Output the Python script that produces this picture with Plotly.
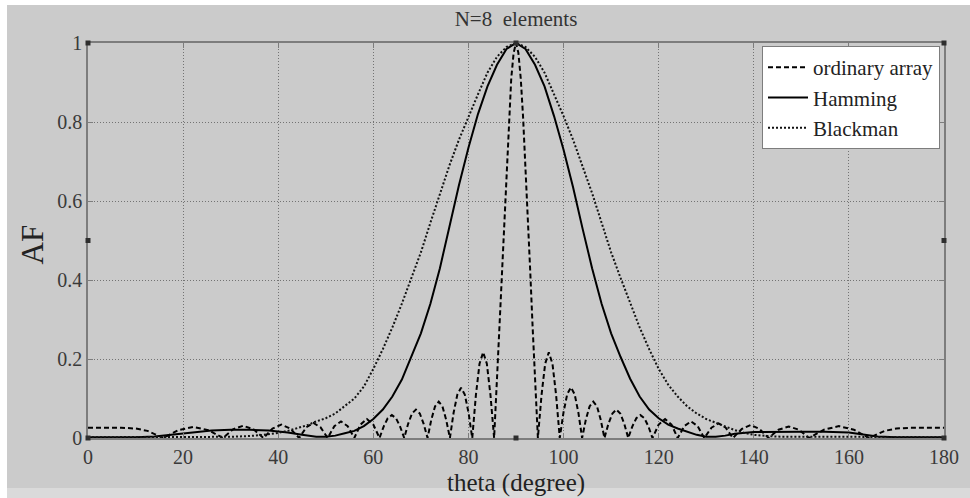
import plotly.graph_objects as go

# ---- array factor data, theta in degrees ----
theta_ordinary = [
    0, 7, 10, 12.5, 14, 15.8,
    19.0, 22.1, 25.3, 28.4,
    30.5, 32.65, 34.8, 36.9,
    38.8, 40.65, 42.5, 44.4,
    45.9, 47.4, 48.9, 50.4,
    51.8, 53.2, 54.6, 56.0,
    57.3, 58.65, 60.0, 61.3,
    62.17, 63.03, 63.9, 64.77, 65.63, 66.5,
    67.32, 68.13, 68.95, 69.77, 70.58, 71.4,
    72.18, 72.97, 73.75, 74.53, 75.32, 76.1,
    76.88, 77.67, 78.45, 79.23, 80.02, 80.8,
    81.57, 82.33, 83.1, 83.87, 84.63, 85.4,
    86.0, 86.5, 87.0, 87.5, 88.0, 88.5, 89.0, 89.5, 90.0,
    90.5, 91.0, 91.5, 92.0, 92.5, 93.0, 93.5, 94.0, 94.6,
    95.37, 96.13, 96.9, 97.67, 98.43, 99.2,
    99.98, 100.77, 101.55, 102.33, 103.12, 103.9,
    104.68, 105.47, 106.25, 107.03, 107.82, 108.6,
    109.43, 110.27, 111.1, 111.93, 112.77, 113.6,
    114.45, 115.3, 116.15, 117.0, 117.85, 118.7,
    120.0, 121.35, 122.7, 124.0,
    125.4, 126.8, 128.2, 129.6,
    131.1, 132.6, 134.1, 135.6,
    137.5, 139.35, 141.2, 143.1,
    145.2, 147.35, 149.5, 151.6,
    154.75, 157.9, 161.05, 164.2,
    166, 167.5, 170, 173, 180,
]
af_ordinary = [
    0.026, 0.026, 0.024, 0.018, 0.010, 0.0,
    0.020, 0.028, 0.020, 0.0,
    0.022, 0.031, 0.022, 0.0,
    0.024, 0.034, 0.024, 0.0,
    0.027, 0.038, 0.027, 0.0,
    0.030, 0.042, 0.030, 0.0,
    0.034, 0.048, 0.034, 0.0,
    0.029, 0.050, 0.058, 0.050, 0.029, 0.0,
    0.036, 0.062, 0.072, 0.062, 0.036, 0.0,
    0.046, 0.080, 0.092, 0.080, 0.046, 0.0,
    0.064, 0.110, 0.127, 0.110, 0.064, 0.0,
    0.109, 0.188, 0.217, 0.188, 0.109, 0.0,
    0.15, 0.28, 0.42, 0.56, 0.69, 0.81, 0.91, 0.975, 1.0,
    0.975, 0.91, 0.81, 0.69, 0.56, 0.42, 0.28, 0.15, 0.0,
    0.109, 0.188, 0.217, 0.188, 0.109, 0.0,
    0.064, 0.111, 0.128, 0.111, 0.064, 0.0,
    0.046, 0.080, 0.092, 0.080, 0.046, 0.0,
    0.036, 0.062, 0.072, 0.062, 0.036, 0.0,
    0.029, 0.050, 0.058, 0.050, 0.029, 0.0,
    0.034, 0.048, 0.034, 0.0,
    0.030, 0.042, 0.030, 0.0,
    0.026, 0.037, 0.026, 0.0,
    0.023, 0.033, 0.023, 0.0,
    0.021, 0.029, 0.021, 0.0,
    0.021, 0.030, 0.021, 0.0,
    0.010, 0.018, 0.024, 0.026, 0.026,
]

theta_hamming = [
    0, 10, 14, 18, 22, 26, 30, 34, 38, 42, 45, 48, 50, 52, 54, 56, 58,
    60, 62, 64, 66, 68, 70, 72, 74, 76, 78, 80, 82, 84, 86, 88, 90,
    92, 94, 96, 98, 100, 102, 104, 106, 108, 110, 112, 114, 116, 118,
    120, 122, 124, 126, 128, 130, 132, 134, 136, 140, 145, 150, 155,
    160, 163, 166, 170, 180,
]
af_hamming = [
    0.002, 0.002, 0.004, 0.009, 0.015, 0.019, 0.021, 0.021, 0.019, 0.014,
    0.008, 0.003, 0.003, 0.006, 0.012, 0.018, 0.030,
    0.048, 0.072, 0.105, 0.148, 0.205, 0.265, 0.340, 0.430, 0.535, 0.640,
    0.735, 0.820, 0.890, 0.945, 0.985, 1.0,
    0.985, 0.945, 0.890, 0.815, 0.730, 0.635, 0.530, 0.430, 0.340, 0.265,
    0.205, 0.150, 0.105, 0.072,
    0.050, 0.034, 0.024, 0.015, 0.008, 0.003, 0.003, 0.006, 0.011, 0.015,
    0.016, 0.016, 0.016, 0.014, 0.009, 0.004, 0.002, 0.002,
]

theta_blackman = [
    0, 20, 30, 34, 37, 40, 42, 44, 46, 48, 50, 52, 54, 56, 58,
    60, 62, 64, 66, 68, 70, 72, 74, 76, 78, 80, 82, 84, 86, 88, 90,
    92, 94, 96, 98, 100, 102, 104, 106, 108, 110, 112, 114, 116, 118,
    120, 122, 124, 126, 128, 130, 132, 134, 136, 138, 140, 143, 146,
    160, 180,
]
af_blackman = [
    0.002, 0.002, 0.003, 0.005, 0.008, 0.013, 0.018, 0.025, 0.032, 0.042,
    0.050, 0.062, 0.080, 0.100, 0.130,
    0.175, 0.225, 0.280, 0.340, 0.405, 0.470, 0.545, 0.620, 0.690, 0.755,
    0.815, 0.870, 0.925, 0.965, 0.990, 1.0,
    0.990, 0.965, 0.925, 0.870, 0.815, 0.755, 0.690, 0.620, 0.545, 0.470,
    0.405, 0.340, 0.280, 0.225,
    0.175, 0.135, 0.105, 0.080, 0.062, 0.048, 0.038, 0.028, 0.020, 0.013,
    0.008, 0.005, 0.003, 0.003, 0.002,
]

x_ticks = [0, 20, 40, 60, 80, 100, 120, 140, 160, 180]
y_ticks = [0, 0.2, 0.4, 0.6, 0.8, 1]
y_tick_labels = ["0", "0.2", "0.4", "0.6", "0.8", "1"]

SERIF = "Liberation Serif, Times New Roman, serif"
FIG_GRAY = "#cbcbcb"
AXIS_GRAY = "#7d7d7d"

fig = go.Figure()
fig.add_trace(go.Scatter(
    x=theta_ordinary, y=af_ordinary, mode="lines", name="ordinary array",
    line=dict(color="black", width=2, dash="5px,3px"),
))
fig.add_trace(go.Scatter(
    x=theta_hamming, y=af_hamming, mode="lines", name="Hamming",
    line=dict(color="black", width=2),
))
fig.add_trace(go.Scatter(
    x=theta_blackman, y=af_blackman, mode="lines", name="Blackman",
    line=dict(color="#111", width=2, dash="2px,2px"),
))

axis_common = dict(
    showgrid=True, gridcolor="#737373", griddash="1px,2px", gridwidth=1,
    showline=True, linecolor=AXIS_GRAY, linewidth=1.5, mirror="allticks",
    ticks="inside", ticklen=5, tickcolor=AXIS_GRAY,
    zeroline=False,
    tickfont=dict(family=SERIF, size=20, color="#3a3a3a"),
)

fig.update_xaxes(range=[0, 180], tickvals=x_ticks, **axis_common)
fig.update_yaxes(range=[0, 1], tickvals=y_ticks, ticktext=y_tick_labels, **axis_common)

# figure window: white rim on the top/left, lighter strip at the bottom
shapes = [
    dict(type="rect", xref="paper", yref="paper", layer="below",
         x0=-88 / 856, x1=1 + 26 / 856, y0=-60 / 395, y1=1 + 43 / 395,
         fillcolor="white", line=dict(width=0)),
    dict(type="rect", xref="paper", yref="paper", layer="below",
         x0=-81 / 856, x1=1 + 26 / 856, y0=-50 / 395, y1=1 + 38 / 395,
         fillcolor=FIG_GRAY, line=dict(width=0)),
    dict(type="rect", xref="paper", yref="paper", layer="below",
         x0=-81 / 856, x1=1 + 26 / 856, y0=-60 / 395, y1=-50 / 395,
         fillcolor="#dadada", line=dict(width=0)),
]
# selection handles on the axes box
for hx, hy in [(0, 0), (0.5, 0), (1, 0), (0, 0.5), (1, 0.5), (0, 1), (0.5, 1), (1, 1)]:
    shapes.append(dict(
        type="rect", xref="paper", yref="paper",
        xsizemode="pixel", ysizemode="pixel", xanchor=hx, yanchor=hy,
        x0=-2.5, x1=2.5, y0=-2.5, y1=2.5,
        fillcolor="#2e2e2e", line=dict(width=0),
    ))

fig.update_layout(
    width=970, height=498,
    margin=dict(l=88, r=26, t=43, b=60),
    paper_bgcolor=FIG_GRAY,
    plot_bgcolor="white",
    font=dict(family=SERIF, color="#222"),
    title=dict(text="N=8\u00a0\u00a0elements", x=0.5, xref="paper",
               y=1 - 19 / 498, yref="container", yanchor="middle",
               font=dict(family=SERIF, size=21, color="#333")),
    showlegend=True,
    legend=dict(
        x=1 - 4 / 856, xanchor="right", y=1 - 3 / 395, yanchor="top",
        bgcolor="white", bordercolor=AXIS_GRAY, borderwidth=1,
        font=dict(family=SERIF, size=21, color="#222"),
        itemwidth=40, tracegroupgap=0,
    ),
    shapes=shapes,
    annotations=[
        dict(text="AF", xref="paper", yref="paper", x=-56 / 856, y=0.49,
             xanchor="center", yanchor="middle", textangle=-90, showarrow=False,
             font=dict(family=SERIF, size=31, color="#222")),
        dict(text="theta (degree)", xref="paper", yref="paper", x=0.5, y=-60 / 395,
             xanchor="center", yanchor="bottom", showarrow=False, borderpad=0,
             font=dict(family=SERIF, size=25, color="#222")),
    ],
)

fig.write_html("out.html")
